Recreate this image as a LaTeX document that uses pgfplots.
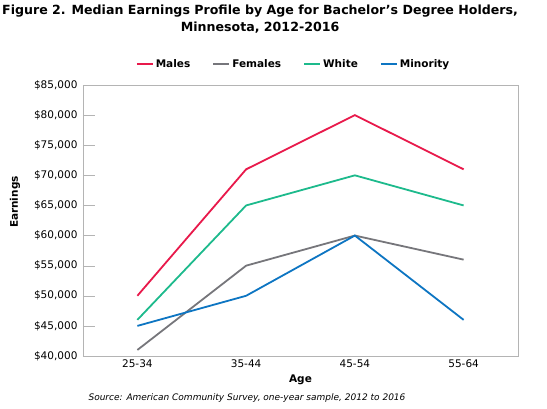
\documentclass[border=0pt]{standalone}
\usepackage{fontspec}
\setmainfont{DejaVu Sans}
\usepackage{pgfplots}
\pgfplotsset{compat=1.18}

\definecolor{males}{HTML}{E8194B}
\definecolor{females}{HTML}{76767B}
\definecolor{whitegrp}{HTML}{1DBA8C}
\definecolor{minority}{HTML}{0D75C2}
\definecolor{frame}{HTML}{B4B4B4}

\begin{document}
\begin{tikzpicture}
\useasboundingbox (-83pt,-52pt) rectangle (464pt,356pt);
\begin{axis}[
    at={(0,0)}, anchor=south west,
    scale only axis,
    width=435pt, height=271pt,
    clip=false,
    xmin=-0.5, xmax=3.5,
    ymin=40000, ymax=85000,
    scaled y ticks=false,
    xtick={0,1,2,3},
    xticklabels={25-34,35-44,45-54,55-64},
    major x tick style={draw=none},
    extra x ticks={0.5,1.5,2.5},
    extra x tick labels={},
    extra x tick style={major tick length=7pt},
    ytick={40000,45000,50000,55000,60000,65000,70000,75000,80000,85000},
    yticklabels={{\$40,000},{\$45,000},{\$50,000},{\$55,000},{\$60,000},{\$65,000},{\$70,000},{\$75,000},{\$80,000},{\$85,000}},
    major tick length=12pt,
    tick align=inside,
    xtick pos=bottom, ytick pos=left,
    axis line style={frame},
    tick style={frame},
    tick label style={font=\fontsize{10.5}{12}\selectfont},
    yticklabel style={xshift=-2pt},
    xlabel={Age},
    ylabel={Earnings},
    every axis x label/.style={at={(axis description cs:0.5,-0.089)}, anchor=center, font=\bfseries\fontsize{10.5}{12}\selectfont},
    every axis y label/.style={at={(axis description cs:-0.156,0.568)}, rotate=90, anchor=center, font=\bfseries\fontsize{10.5}{12}\selectfont},
    title={Figure 2. Median Earnings Profile by Age for Bachelor’s Degree Holders,\\Minnesota, 2012-2016},
    title style={at={(axis description cs:0.407,1.22)}, anchor=center, align=center, font=\bfseries\fontsize{12.6}{17}\selectfont},
    legend columns=4,
    legend style={at={(axis description cs:0.484,1.077)}, anchor=center, draw=none, fill=none,
        font=\bfseries\fontsize{10.5}{12}\selectfont,
        /tikz/every even column/.append style={column sep=20pt}},
    legend image code/.code={\draw[#1, line width=2pt] (0pt,0pt) -- (16pt,0pt);},
    every axis plot/.append style={line width=1.8pt},
  ]
  \addplot[males] coordinates {(0,50000) (1,71000) (2,80000) (3,71000)};
  \addlegendentry{Males}
  \addplot[females] coordinates {(0,41000) (1,55000) (2,60000) (3,56000)};
  \addlegendentry{Females}
  \addplot[whitegrp] coordinates {(0,46000) (1,65000) (2,70000) (3,65000)};
  \addlegendentry{White}
  \addplot[minority] coordinates {(0,45000) (1,50000) (2,60000) (3,46000)};
  \addlegendentry{Minority}
  \node[font=\itshape\fontsize{9}{11}\selectfont] at (axis description cs:0.377,-0.155)
    {Source: American Community Survey, one-year sample, 2012 to 2016};
\end{axis}
\end{tikzpicture}
\end{document}
